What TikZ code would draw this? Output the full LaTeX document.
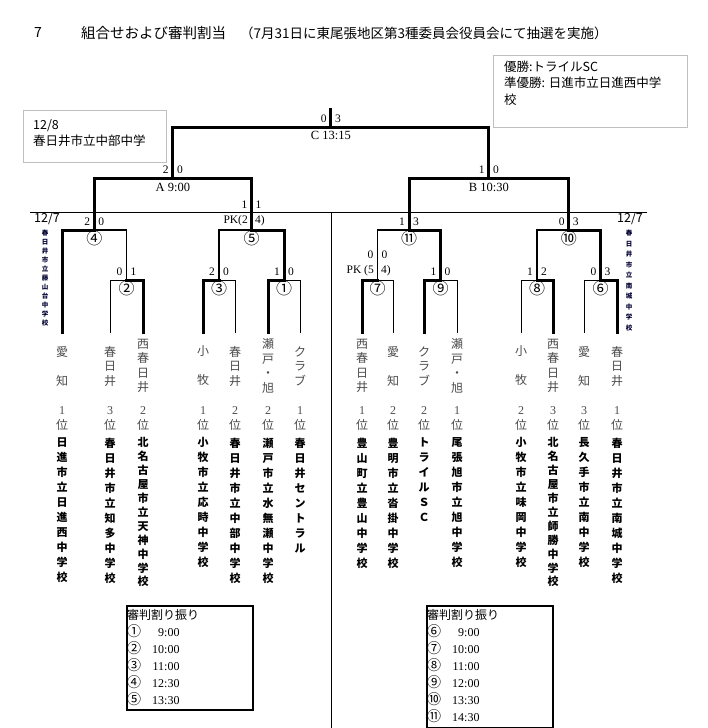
\documentclass[tikz,border=0pt]{standalone}
\usepackage{fontspec}
\setmainfont{Liberation Serif}
\newfontfamily\jp{Noto Sans CJK JP}
\usepackage{array}
\usepackage{xcolor}
\usepackage{tikz}
\usetikzlibrary{positioning}

\begin{document}
\begin{tikzpicture}[
            x=1pt, y=-1pt,                      % 1 pt = 1 px de la imagen
            line cap=rect,
            win/.style={draw=black, line width=3pt},
            mid/.style={draw=black, line width=1.8pt},
            lose/.style={draw=black, line width=1pt},
            rule/.style={draw=black, line width=0.8pt},
            score/.style={inner sep=0pt, font=\fontsize{11.5}{12}\selectfont},
            mlabel/.style={inner sep=0pt, font=\fontsize{12.5}{13}\selectfont},
            num/.style={inner sep=0pt, font=\jp\fontsize{16}{16}\selectfont},
            region/.style={inner sep=0pt, align=center, text=black!70,
                font=\jp\fontsize{12}{14.5}\selectfont},
            rank/.style={inner sep=0pt, align=center, text=black!70,
                font=\jp\fontsize{12}{15}\selectfont},
            school/.style={inner sep=0pt, align=center, anchor=north,
                font=\jp\bfseries\fontsize{11}{15}\selectfont},
            longschool/.style={school, font=\jp\bfseries\fontsize{11}{13.9}\selectfont},
            venue/.style={inner sep=0pt, align=center, anchor=north, text=black!80!blue,
                font=\jp\bfseries\fontsize{6.5}{#1}\selectfont},
            day/.style={inner sep=0pt, font=\jp\fontsize{12.5}{13}\selectfont},
            graybox/.style={draw=black!25, line width=0.8pt, inner sep=0pt, anchor=north west},
            boxtext/.style={inner sep=0pt, align=left, font=\jp\fontsize{12.5}{16.5}\selectfont},
            refbox/.style={draw=black, line width=2pt, inner sep=0pt, anchor=north west,
                minimum width=126pt},
            reftext/.style={inner sep=0pt, font=\jp\fontsize{12}{17}\selectfont}
        ]
            \path[use as bounding box, fill=white] (0,0) rectangle (707,728);

            % --- CABECERA ---
            \node[inner sep=0pt, font=\jp\fontsize{14}{15}\selectfont] (head_num) at (38,33) {7};
            \node[inner sep=0pt, anchor=west, font=\jp\fontsize{14.5}{15}\selectfont] (head_title) at (81,33) {組合せおよび審判割当};
            \node[inner sep=0pt, anchor=west, font=\jp\fontsize{13.5}{15}\selectfont] (head_note) at (240,33) {（7月31日に東尾張地区第3種委員会役員会にて抽選を実施）};

            \node[graybox, minimum width=194pt, minimum height=72pt] (champ_box) at (493,55) {};
            \node[boxtext, below right=5.5pt and 11pt of champ_box.north west] (champ_text) {
                優勝:トライルSC\\
                準優勝: 日進市立日進西中学\\
                校
            };

            \node[graybox, minimum width=143pt, minimum height=52pt] (date_box) at (23,110) {};
            \node[boxtext, below right=9pt and 10pt of date_box.north west, font=\jp\fontsize{12.5}{16}\selectfont] (date_text) {
                12/8\\
                春日井市立中部中学
            };

            % --- LINEAS DE SEPARACION ---
            \draw[rule] (30,212.5) -- (647,212.5);
            \draw[rule] (331,212.5) -- (331,728);

            % --- HOJAS (equipos) ---
            \coordinate (leaf_1) at (62,332);
            \coordinate (leaf_2) at (110,332);
            \coordinate (leaf_3) at (143,332);
            \coordinate (leaf_4) at (203,332);
            \coordinate (leaf_5) at (235,332);
            \coordinate (leaf_6) at (268,332);
            \coordinate (leaf_7) at (300,332);
            \coordinate (leaf_8) at (362,332);
            \coordinate (leaf_9) at (393,332);
            \coordinate (leaf_10) at (424,332);
            \coordinate (leaf_11) at (457,332);
            \coordinate (leaf_12) at (521,332);
            \coordinate (leaf_13) at (553,332);
            \coordinate (leaf_14) at (584,332);
            \coordinate (leaf_15) at (617,332);

            % --- PARTIDOS ---
            \coordinate (match_1) at (284,280);
            \coordinate (match_2) at (126.5,280);
            \coordinate (match_3) at (219,280);
            \coordinate (match_4) at (94.25,230);
            \coordinate (match_5) at (251.5,230);
            \coordinate (match_6) at (600.5,280);
            \coordinate (match_7) at (377.5,280);
            \coordinate (match_8) at (537,280);
            \coordinate (match_9) at (440.5,280);
            \coordinate (match_10) at (568.75,230);
            \coordinate (match_11) at (409,230);
            \coordinate (match_a) at (172.9,178);
            \coordinate (match_b) at (488.9,178);
            \coordinate (match_c) at (330.9,127);
            \coordinate (top_c) at (330.9,109.5);

            % --- CUADRO IZQUIERDO ---
            \draw[lose] (leaf_2) |- (match_2);
            \draw[lose] (leaf_5) |- (match_3);
            \draw[lose] (leaf_7) |- (match_1);
            \draw[mid]  (match_2) |- (match_4);
            \draw[mid]  (match_3) |- (match_5);
            \draw[win]  (leaf_3) |- (match_2);
            \draw[win]  (leaf_4) |- (match_3);
            \draw[win]  (leaf_6) |- (match_1);
            \draw[win]  (leaf_1) |- (match_4);
            \draw[win]  (match_1) |- (match_5);
            \draw[win]  (match_4) |- (match_a);
            \draw[win]  (match_5) |- (match_a);

            % --- CUADRO DERECHO ---
            \draw[lose] (leaf_9) |- (match_7);
            \draw[lose] (leaf_11) |- (match_9);
            \draw[lose] (leaf_12) |- (match_8);
            \draw[lose] (leaf_14) |- (match_6);
            \draw[mid]  (match_7) |- (match_11);
            \draw[mid]  (match_8) |- (match_10);
            \draw[win]  (leaf_8) |- (match_7);
            \draw[win]  (leaf_10) |- (match_9);
            \draw[win]  (leaf_13) |- (match_8);
            \draw[win]  (leaf_15) |- (match_6);
            \draw[win]  (match_9) |- (match_11);
            \draw[win]  (match_6) |- (match_10);
            \draw[win]  (match_11) |- (match_b);
            \draw[win]  (match_10) |- (match_b);

            % --- FINAL ---
            \draw[win] (match_a) |- (match_c);
            \draw[win] (match_b) |- (match_c);
            \draw[win] (match_c) -- (top_c);

            % --- RESULTADOS ---
            \node[score, above left=4pt and 4pt of match_c] (sc_l) {0};
            \node[score, above right=4pt and 4pt of match_c] (sc_r) {3};
            \node[mlabel, below=4pt of match_c] (label_c) {C 13:15};
            \node[score, above left=4pt and 4pt of match_a] (sa_l) {2};
            \node[score, above right=4pt and 4pt of match_a] (sa_r) {0};
            \node[mlabel, below=5pt of match_a] (label_a) {A 9:00};
            \node[score, above left=4pt and 4pt of match_b] (sb_l) {1};
            \node[score, above right=4pt and 4pt of match_b] (sb_r) {0};
            \node[mlabel, below=5pt of match_b] (label_b) {B 10:30};

            \node[score, above left=4pt and 4pt of match_4] (s4_l) {2};
            \node[score, above right=4pt and 4pt of match_4] (s4_r) {0};
            \node[score, above left=21pt and 4pt of match_5] (s5_l) {1};
            \node[score, above right=21pt and 4pt of match_5] (s5_r) {1};
            \node[score, above left=4pt and 3.5pt of match_5] (pk5_l) {PK(2};
            \node[score, above right=4pt and 3.5pt of match_5] (pk5_r) {4)};
            \node[score, above left=4pt and 4pt of match_2] (s2_l) {0};
            \node[score, above right=4pt and 4pt of match_2] (s2_r) {1};
            \node[score, above left=4pt and 4pt of match_3] (s3_l) {2};
            \node[score, above right=4pt and 4pt of match_3] (s3_r) {0};
            \node[score, above left=4pt and 4pt of match_1] (s1_l) {1};
            \node[score, above right=4pt and 4pt of match_1] (s1_r) {0};

            \node[score, above left=4pt and 4pt of match_11] (s11_l) {1};
            \node[score, above right=4pt and 4pt of match_11] (s11_r) {3};
            \node[score, above left=4pt and 4pt of match_10] (s10_l) {0};
            \node[score, above right=4pt and 4pt of match_10] (s10_r) {3};
            \node[score, above left=21pt and 4pt of match_7] (s7_l) {0};
            \node[score, above right=21pt and 4pt of match_7] (s7_r) {0};
            \node[score, above left=4pt and 3.5pt of match_7] (pk7_l) {PK (5};
            \node[score, above right=4pt and 3.5pt of match_7] (pk7_r) {4)};
            \node[score, above left=4pt and 4pt of match_9] (s9_l) {1};
            \node[score, above right=4pt and 4pt of match_9] (s9_r) {0};
            \node[score, above left=4pt and 4pt of match_8] (s8_l) {1};
            \node[score, above right=4pt and 4pt of match_8] (s8_r) {2};
            \node[score, above left=4pt and 4pt of match_6] (s6_l) {0};
            \node[score, above right=4pt and 4pt of match_6] (s6_r) {3};

            % --- NUMEROS DE PARTIDO ---
            \node[num, below=0.5pt of match_1] (num_1) {①};
            \node[num, below=0.5pt of match_2] (num_2) {②};
            \node[num, below=0.5pt of match_3] (num_3) {③};
            \node[num, below=0.5pt of match_4] (num_4) {④};
            \node[num, below=0.5pt of match_5] (num_5) {⑤};
            \node[num, below=0.5pt of match_6] (num_6) {⑥};
            \node[num, below=0.5pt of match_7] (num_7) {⑦};
            \node[num, below=0.5pt of match_8] (num_8) {⑧};
            \node[num, below=0.5pt of match_9] (num_9) {⑨};
            \node[num, below=0.5pt of match_10] (num_10) {⑩};
            \node[num, below=0.5pt of match_11] (num_11) {⑪};

            % --- SEDES 12/7 ---
            \node[day] (day_left) at (47,219) {12/7};
            \node[venue=9] (venue_left) at (45,229.75) {春\\日\\井\\市\\立\\藤\\山\\台\\中\\学\\校};
            \node[day] (day_right) at (630,218.5) {12/7};
            \node[venue=10.5] (venue_right) at (629,229.75) {春\\日\\井\\市\\立\\南\\城\\中\\学\\校};

            % --- EQUIPOS ---
            \node[region] (reg_1) at (leaf_1 |- 0,366) {愛\\~\\知};
            \node[rank] (rank_1) at (leaf_1 |- 0,418.5) {{\rmfamily 1}\\位};
            \node[school] (sch_1) at (leaf_1 |- 0,437.5) {日\\進\\市\\立\\日\\進\\西\\中\\学\\校};

            \node[region] (reg_2) at (leaf_2 |- 0,366) {春\\日\\井};
            \node[rank] (rank_2) at (leaf_2 |- 0,418.5) {{\rmfamily 3}\\位};
            \node[school] (sch_2) at (leaf_2 |- 0,437.5) {春\\日\\井\\市\\立\\知\\多\\中\\学\\校};

            \node[region] (reg_3) at (leaf_3 |- 0,366) {西\\春\\日\\井};
            \node[rank] (rank_3) at (leaf_3 |- 0,418.5) {{\rmfamily 2}\\位};
            \node[longschool] (sch_3) at (leaf_3 |- 0,437.5) {北\\名\\古\\屋\\市\\立\\天\\神\\中\\学\\校};

            \node[region] (reg_4) at (leaf_4 |- 0,366) {小\\~\\牧};
            \node[rank] (rank_4) at (leaf_4 |- 0,418.5) {{\rmfamily 1}\\位};
            \node[school] (sch_4) at (leaf_4 |- 0,437.5) {小\\牧\\市\\立\\応\\時\\中\\学\\校};

            \node[region] (reg_5) at (leaf_5 |- 0,366) {春\\日\\井};
            \node[rank] (rank_5) at (leaf_5 |- 0,418.5) {{\rmfamily 2}\\位};
            \node[school] (sch_5) at (leaf_5 |- 0,437.5) {春\\日\\井\\市\\立\\中\\部\\中\\学\\校};

            \node[region] (reg_6) at (leaf_6 |- 0,366) {瀬\\戸\\・\\旭};
            \node[rank] (rank_6) at (leaf_6 |- 0,418.5) {{\rmfamily 2}\\位};
            \node[school] (sch_6) at (leaf_6 |- 0,437.5) {瀬\\戸\\市\\立\\水\\無\\瀬\\中\\学\\校};

            \node[region] (reg_7) at (leaf_7 |- 0,366) {ク\\ラ\\ブ};
            \node[rank] (rank_7) at (leaf_7 |- 0,418.5) {{\rmfamily 1}\\位};
            \node[school] (sch_7) at (leaf_7 |- 0,437.5) {春\\日\\井\\セ\\ン\\ト\\ラ\\ル};

            \node[region] (reg_8) at (leaf_8 |- 0,366) {西\\春\\日\\井};
            \node[rank] (rank_8) at (leaf_8 |- 0,418.5) {{\rmfamily 1}\\位};
            \node[school] (sch_8) at (leaf_8 |- 0,437.5) {豊\\山\\町\\立\\豊\\山\\中\\学\\校};

            \node[region] (reg_9) at (leaf_9 |- 0,366) {愛\\~\\知};
            \node[rank] (rank_9) at (leaf_9 |- 0,418.5) {{\rmfamily 2}\\位};
            \node[school] (sch_9) at (leaf_9 |- 0,437.5) {豊\\明\\市\\立\\沓\\掛\\中\\学\\校};

            \node[region] (reg_10) at (leaf_10 |- 0,366) {ク\\ラ\\ブ};
            \node[rank] (rank_10) at (leaf_10 |- 0,418.5) {{\rmfamily 2}\\位};
            \node[school] (sch_10) at (leaf_10 |- 0,437.5) {ト\\ラ\\イ\\ル\\Ｓ\\Ｃ};

            \node[region] (reg_11) at (leaf_11 |- 0,366) {瀬\\戸\\・\\旭};
            \node[rank] (rank_11) at (leaf_11 |- 0,418.5) {{\rmfamily 1}\\位};
            \node[school] (sch_11) at (leaf_11 |- 0,437.5) {尾\\張\\旭\\市\\立\\旭\\中\\学\\校};

            \node[region] (reg_12) at (leaf_12 |- 0,366) {小\\~\\牧};
            \node[rank] (rank_12) at (leaf_12 |- 0,418.5) {{\rmfamily 2}\\位};
            \node[school] (sch_12) at (leaf_12 |- 0,437.5) {小\\牧\\市\\立\\味\\岡\\中\\学\\校};

            \node[region] (reg_13) at (leaf_13 |- 0,366) {西\\春\\日\\井};
            \node[rank] (rank_13) at (leaf_13 |- 0,418.5) {{\rmfamily 3}\\位};
            \node[longschool] (sch_13) at (leaf_13 |- 0,437.5) {北\\名\\古\\屋\\市\\立\\師\\勝\\中\\学\\校};

            \node[region] (reg_14) at (leaf_14 |- 0,366) {愛\\~\\知};
            \node[rank] (rank_14) at (leaf_14 |- 0,418.5) {{\rmfamily 3}\\位};
            \node[school] (sch_14) at (leaf_14 |- 0,437.5) {長\\久\\手\\市\\立\\南\\中\\学\\校};

            \node[region] (reg_15) at (leaf_15 |- 0,366) {春\\日\\井};
            \node[rank] (rank_15) at (leaf_15 |- 0,418.5) {{\rmfamily 1}\\位};
            \node[school] (sch_15) at (leaf_15 |- 0,437.5) {春\\日\\井\\市\\立\\南\\城\\中\\学\\校};

            % --- HORARIOS DE ARBITRAJE ---
            \node[refbox, minimum height=104pt] (ref_left) at (126,605) {};
            \node[reftext, below right=2.5pt and 1pt of ref_left.north west] (ref_left_text) {%
                \begin{tabular}{@{}>{\fontsize{14}{17}\selectfont}l@{\hspace{11pt}}r@{}}
                    \multicolumn{2}{@{}l@{}}{\rlap{審判割り振り}}\\
                    ① & {\rmfamily 9:00}\\
                    ② & {\rmfamily 10:00}\\
                    ③ & {\rmfamily 11:00}\\
                    ④ & {\rmfamily 12:30}\\
                    ⑤ & {\rmfamily 13:30}
                \end{tabular}};

            \node[refbox, minimum height=122pt] (ref_right) at (426,605) {};
            \node[reftext, below right=2.5pt and 1pt of ref_right.north west] (ref_right_text) {%
                \begin{tabular}{@{}>{\fontsize{14}{17}\selectfont}l@{\hspace{11pt}}r@{}}
                    \multicolumn{2}{@{}l@{}}{\rlap{審判割り振り}}\\
                    ⑥ & {\rmfamily 9:00}\\
                    ⑦ & {\rmfamily 10:00}\\
                    ⑧ & {\rmfamily 11:00}\\
                    ⑨ & {\rmfamily 12:00}\\
                    ⑩ & {\rmfamily 13:30}\\
                    ⑪ & {\rmfamily 14:30}
                \end{tabular}};
        \end{tikzpicture}
\end{document}
